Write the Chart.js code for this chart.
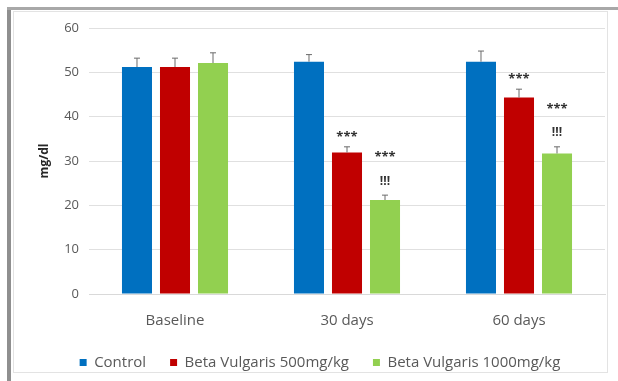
<!DOCTYPE html>
<html>
<head>
<meta charset="utf-8">
<script src="https://cdn.jsdelivr.net/npm/chart.js@4/dist/chart.umd.min.js"></script>
<style>
  html, body { margin: 0; padding: 0; background: #ffffff; }
  #wrap { position: relative; width: 618px; height: 381px; }
</style>
</head>
<body>
<div id="wrap"><canvas id="chart" width="618" height="381"></canvas></div>
<script>
// Serum level (mg/dl) per group over time
const categories = ['Baseline', '30 days', '60 days'];
const seriesNames = ['Control', 'Beta Vulgaris 500mg/kg', 'Beta Vulgaris 1000mg/kg'];
const control = [51.2, 52.4, 52.4];
const bv500 = [51.2, 31.9, 44.3];
const bv1000 = [52.1, 21.2, 31.7];
const controlErr = [2.0, 1.6, 2.4];
const bv500Err = [2.0, 1.3, 1.9];
const bv1000Err = [2.3, 1.1, 1.5];
// significance marks: vs control (***) and vs 500mg/kg (!!!)
const controlSig = [[], [], []];
const bv500Sig = [[], ['***'], ['***']];
const bv1000Sig = [[], ['!!!', '***'], ['!!!', '***']];
const yTicks = [0, 10, 20, 30, 40, 50, 60];

const colors = ['#0070C0', '#C00000', '#92D050'];
const FONT = "'Open Sans', 'Liberation Sans', sans-serif";

const errorBars = {
  id: 'errorBars',
  afterDatasetsDraw(chart) {
    const ctx = chart.ctx;
    const y = chart.scales.y;
    chart.data.datasets.forEach((ds, di) => {
      const meta = chart.getDatasetMeta(di);
      meta.data.forEach((bar, i) => {
        const v = ds.data[i];
        const e = ds.errors[i];
        const yTop = y.getPixelForValue(v + e);
        ctx.save();
        ctx.strokeStyle = '#6b6b6b';
        ctx.lineWidth = 1;
        ctx.beginPath();
        ctx.moveTo(bar.x, bar.y);
        ctx.lineTo(bar.x, yTop);
        ctx.moveTo(bar.x - 3, yTop);
        ctx.lineTo(bar.x + 3, yTop);
        ctx.stroke();
        // significance labels stacked above the error bar
        ctx.fillStyle = '#333333';
        ctx.textAlign = 'center';
        ctx.textBaseline = 'bottom';
        let base = yTop - 4;
        ds.sig[i].forEach(txt => {
          if (txt === '***') {
            ctx.font = 'bold 13px ' + FONT;
            ctx.fillText(txt, bar.x, base + 1);
            base -= 26;
          } else {
            ctx.font = 'bold 12px ' + FONT;
            ctx.fillText(txt, bar.x, base - 4);
            base -= 28;
          }
        });
        ctx.restore();
      });
    });
  }
};

const frame = {
  id: 'frame',
  beforeDraw(chart) {
    const ctx = chart.ctx;
    ctx.save();
    ctx.fillStyle = '#ffffff';
    ctx.fillRect(0, 0, chart.width, chart.height);
    ctx.strokeStyle = '#e3e3e3';
    ctx.lineWidth = 1;
    ctx.strokeRect(13.5, 11.5, 594, 361);
    ctx.fillStyle = '#8f8f8f';
    ctx.fillRect(7, 7, 4, 374);
    ctx.fillStyle = '#a8a8a8';
    ctx.fillRect(7, 7, 611, 3);
    ctx.restore();
  }
};

new Chart(document.getElementById('chart'), {
  type: 'bar',
  data: {
    labels: categories,
    datasets: [
      { label: seriesNames[0], data: control, errors: controlErr, sig: controlSig, backgroundColor: colors[0] },
      { label: seriesNames[1], data: bv500, errors: bv500Err, sig: bv500Sig, backgroundColor: colors[1] },
      { label: seriesNames[2], data: bv1000, errors: bv1000Err, sig: bv1000Sig, backgroundColor: colors[2] }
    ]
  },
  options: {
    responsive: false,
    animation: false,
    devicePixelRatio: 1,
    datasets: { bar: { categoryPercentage: 0.663, barPercentage: 0.79 } },
    layout: { padding: { left: 35, right: 13, top: 28, bottom: 1 } },
    scales: {
      x: {
        afterFit: s => { s.height = 37; },
        grid: { display: false, drawTicks: false },
        border: { color: '#d9d9d9' },
        ticks: { color: '#595959', font: { family: FONT, size: 15 }, padding: 18 }
      },
      y: {
        min: 0, max: 60,
        afterBuildTicks: s => { s.ticks = yTicks.map(v => ({ value: v })); },
        afterFit: s => { s.width = 54; },
        grid: { color: '#e0e0e0', drawTicks: false },
        border: { display: false },
        ticks: { color: '#595959', font: { family: FONT, size: 13 }, padding: 10 },
        title: { display: true, text: 'mg/dl', color: '#262626', font: { family: FONT, size: 12, weight: 'bold' }, padding: 2 }
      }
    },
    plugins: {
      legend: {
        position: 'bottom',
        labels: { boxWidth: 7, boxHeight: 7, color: '#595959', font: { family: FONT, size: 15 }, padding: 24 }
      },
      tooltip: { enabled: false }
    }
  },
  plugins: [frame, errorBars]
});
</script>
</body>
</html>
